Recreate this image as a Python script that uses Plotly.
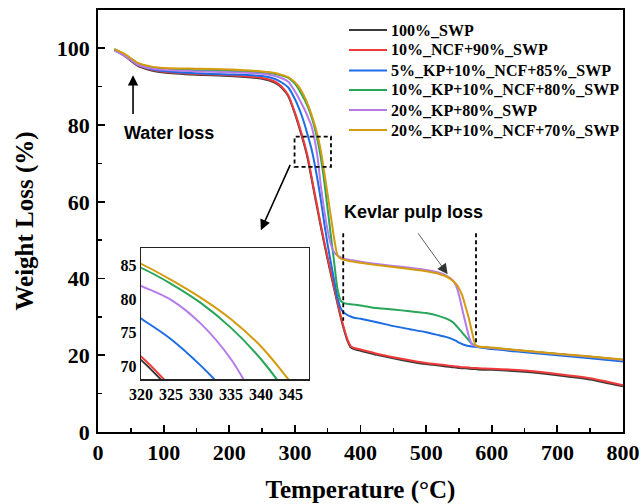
import plotly.graph_objects as go

# Temperature grid (°C) shared by all TGA curves
temperature = [25, 40, 60, 80, 100, 150, 200, 250, 270, 280, 290, 300, 305, 310, 315,
               320, 325, 330, 335, 340, 345, 350, 355, 360, 365, 370, 375, 380, 385, 390,
               400, 425, 450, 475, 500, 520, 530, 540, 545, 550, 555, 560, 565, 570, 575,
               580, 600, 650, 700, 750, 800]

# Remaining weight (%) for each formulation
swp_100 = [99.6, 98.1, 95.5, 94.3, 93.7, 93.1, 92.8, 92.1, 91.0, 89.7, 87.5, 83.0, 80.3, 77.4, 74.4,
           70.9, 66.4, 61.9, 57.5, 53.1, 48.9, 44.9, 41.0, 37.2, 33.4, 29.8, 26.6, 23.8, 22.1, 21.6,
           21.2, 20.1, 19.2, 18.4, 17.7, 17.3, 17.1, 16.9, 16.8, 16.7, 16.6, 16.6, 16.5, 16.4, 16.4,
           16.3, 16.2, 15.7, 14.8, 13.7, 11.9]
ncf10_swp90 = [99.7, 98.3, 95.7, 94.5, 93.9, 93.3, 93.0, 92.3, 91.3, 90.0, 87.8, 83.3, 80.7, 77.9, 74.9,
               71.4, 66.9, 62.4, 58.0, 53.6, 49.4, 45.4, 41.5, 37.6, 33.8, 30.2, 27.0, 24.2, 22.4, 21.9,
               21.5, 20.4, 19.5, 18.7, 18.0, 17.6, 17.4, 17.2, 17.1, 17.0, 16.9, 16.9, 16.8, 16.7, 16.7,
               16.6, 16.5, 16.0, 15.1, 14.0, 12.2]
kp5_ncf10_swp85 = [99.7, 98.3, 95.8, 94.6, 94.1, 93.5, 93.2, 92.8, 92.0, 91.1, 89.8, 86.8, 84.9, 82.7, 80.1,
                   77.1, 74.0, 70.0, 65.3, 60.0, 54.2, 48.8, 44.0, 39.4, 35.0, 32.2, 31.1, 30.5, 30.1, 29.8,
                   29.5, 28.6, 27.6, 26.8, 26.0, 25.2, 24.8, 24.2, 23.8, 23.3, 22.9, 22.6, 22.4, 22.3, 22.2,
                   22.1, 21.6, 20.8, 20.0, 19.2, 18.4]
kp10_ncf10_swp80 = [99.8, 98.5, 96.1, 95.1, 94.7, 94.3, 94.1, 93.7, 93.3, 92.9, 92.3, 90.8, 89.6, 88.1, 86.5,
                    84.7, 82.3, 79.4, 75.7, 71.0, 65.0, 58.0, 51.0, 44.0, 37.2, 34.2, 33.6, 33.4, 33.3, 33.2,
                    33.0, 32.3, 31.9, 31.5, 31.0, 30.2, 29.6, 28.7, 27.9, 26.9, 25.9, 24.9, 23.9, 23.0, 22.5,
                    22.2, 21.9, 21.1, 20.3, 19.6, 18.8]
kp20_swp80 = [99.4, 98.1, 95.8, 94.8, 94.4, 94.0, 93.8, 93.4, 92.8, 92.2, 91.3, 88.8, 87.3, 85.7, 84.0,
              82.0, 79.9, 76.3, 71.0, 63.5, 57.5, 52.5, 48.8, 46.8, 46.0, 45.5, 45.2, 45.0, 44.8, 44.7,
              44.4, 43.8, 43.3, 42.8, 42.2, 41.5, 40.8, 39.6, 38.4, 35.8, 32.0, 28.5, 25.0, 22.8, 22.5,
              22.2, 21.9, 21.1, 20.3, 19.6, 18.8]
kp20_ncf10_swp70 = [99.8, 98.6, 96.3, 95.3, 94.9, 94.7, 94.5, 94.0, 93.6, 93.1, 92.5, 91.2, 90.2, 88.9, 87.3,
                    85.3, 82.9, 80.2, 77.0, 72.9, 67.5, 61.8, 56.0, 50.3, 46.0, 45.2, 44.9, 44.7, 44.5, 44.4,
                    44.1, 43.5, 43.0, 42.5, 41.9, 41.2, 40.6, 39.5, 38.7, 37.5, 35.6, 32.7, 29.7, 26.0, 22.7,
                    22.3, 22.0, 21.2, 20.4, 19.7, 18.9]

series_names = ["100%_SWP", "10%_NCF+90%_SWP", "5%_KP+10%_NCF+85%_SWP",
                "10%_KP+10%_NCF+80%_SWP", "20%_KP+80%_SWP", "20%_KP+10%_NCF+70%_SWP"]
series_values = [swp_100, ncf10_swp90, kp5_ncf10_swp85, kp10_ncf10_swp80, kp20_swp80, kp20_ncf10_swp70]
series_colors = ["#3a3a3a", "#f03a3a", "#1c6ce3", "#27a65a", "#b57bea", "#d49b0e"]

# Axis ticks
x_ticks = [0, 100, 200, 300, 400, 500, 600, 700, 800]
y_ticks = [0, 20, 40, 60, 80, 100]
inset_x_ticks = [320, 325, 330, 335, 340, 345]
inset_y_ticks = [70, 75, 80, 85]

SERIF = "Liberation Serif"
SANS = "Liberation Sans"

W, H = 641, 504
M_L, M_R, M_T, M_B = 98, 18, 10, 72

fig = go.Figure()

# Main curves
for name, vals, color in zip(series_names, series_values, series_colors):
    fig.add_trace(go.Scatter(
        x=temperature, y=vals, mode="lines", name=name, showlegend=False,
        line=dict(color=color, width=2, shape="spline", smoothing=0.5),
        xaxis="x", yaxis="y", hoverinfo="skip",
    ))

# Zoomed inset of the decomposition onset
for name, vals, color in zip(series_names, series_values, series_colors):
    fig.add_trace(go.Scatter(
        x=temperature, y=vals, mode="lines", name=name, showlegend=False,
        line=dict(color=color, width=2, shape="spline", smoothing=1.0),
        xaxis="x2", yaxis="y2", hoverinfo="skip",
    ))

axis_common = dict(
    showline=True, linecolor="black", linewidth=1.8, mirror=True,
    showgrid=False, zeroline=False, automargin=False,
    ticks="inside", ticklen=7, tickwidth=1.8, tickcolor="black",
    tickfont=dict(family=SERIF, size=22, color="black", weight="bold"),
)
inset_common = dict(
    showline=True, linecolor="#222", linewidth=1.3, mirror=True,
    showgrid=False, zeroline=False, ticks="", automargin=False,
    tickfont=dict(family=SERIF, size=16, color="black", weight="bold"),
)

fig.update_layout(
    width=W, height=H,
    margin=dict(l=M_L, r=M_R, t=M_T, b=M_B),
    paper_bgcolor="white", plot_bgcolor="white",
    showlegend=False,
    xaxis=dict(
        **axis_common, range=[0, 800], tickvals=x_ticks,
        minor=dict(ticks="inside", ticklen=4, tickwidth=1.5, dtick=50, tickcolor="black"),
        title=dict(text="Temperature (°C)", standoff=20,
                   font=dict(family=SERIF, size=25, color="black", weight="bold")),
    ),
    yaxis=dict(
        **axis_common, range=[0, 110], tickvals=y_ticks,
        minor=dict(ticks="inside", ticklen=4, tickwidth=1.5, dtick=10, tickcolor="black"),
        title=dict(text="Weight Loss (%)", standoff=16,
                   font=dict(family=SERIF, size=25, color="black", weight="bold")),
        ticklabelstandoff=2,
    ),
    xaxis2=dict(**inset_common, domain=[0.082, 0.402], anchor="y2",
                range=[320, 348], tickvals=inset_x_ticks),
    yaxis2=dict(**inset_common, domain=[0.125, 0.435], anchor="x2",
                range=[68, 87.6], tickvals=inset_y_ticks),
)

# Legend: short line sample followed by the series name, one row per series
plot_w = W - M_L - M_R
plot_h = H - M_T - M_B
def px_x(px):
    return (px - M_L) / plot_w
def px_y(py):
    return (H - M_B - py) / plot_h

legend_rows_px = [30, 50, 70.5, 90, 110, 130]
for name, color, row in zip(series_names, series_colors, legend_rows_px):
    fig.add_shape(type="line", xref="paper", yref="paper",
                  x0=px_x(349), x1=px_x(387), y0=px_y(row), y1=px_y(row),
                  line=dict(color=color, width=2))
    fig.add_annotation(x=px_x(389), y=px_y(row), xref="paper", yref="paper",
                       xanchor="left", yanchor="middle", text=name, showarrow=False,
                       font=dict(family=SERIF, size=16, color="black", weight="bold"))

# Dashed marker box around the zoomed region, and dashed guides for the Kevlar step
dash_style = dict(color="black", width=1.8, dash="4px,3px")
fig.add_shape(type="rect", xref="x", yref="y", x0=299.5, x1=355, y0=69.1, y1=77.0,
              line=dash_style)
fig.add_shape(type="line", xref="x", yref="y", x0=373.7, x1=373.7, y0=51.8, y1=29.0,
              line=dash_style)
fig.add_shape(type="line", xref="x", yref="y", x0=576.0, x1=576.0, y0=51.8, y1=23.1,
              line=dash_style)

# Arrows
fig.add_annotation(x=53.4, y=93.0, ax=53.4, ay=82.5, xref="x", yref="y", axref="x", ayref="y",
                   text="", showarrow=True, arrowhead=2, arrowsize=1.3, arrowwidth=1.6,
                   arrowcolor="black", standoff=0)
fig.add_annotation(x=248.2, y=52.6, ax=293.9, ay=70.0, xref="x", yref="y", axref="x", ayref="y",
                   text="", showarrow=True, arrowhead=2, arrowsize=1.3, arrowwidth=1.6,
                   arrowcolor="black", standoff=0)
fig.add_annotation(x=532.8, y=41.1, ax=486.1, ay=52.2, xref="x", yref="y", axref="x", ayref="y",
                   text="", showarrow=True, arrowhead=2, arrowsize=2.6, arrowwidth=0.8,
                   arrowcolor="#333", standoff=0)

# Text labels
fig.add_annotation(x=107.5, y=77.9, xref="x", yref="y", text="Water loss", showarrow=False,
                   font=dict(family=SANS, size=18, color="black", weight="bold"))
fig.add_annotation(x=480, y=57.4, xref="x", yref="y", text="Kevlar pulp loss", showarrow=False,
                   font=dict(family=SANS, size=18, color="black", weight="bold"))

fig.write_html("out.html", config={"displayModeBar": False, "staticPlot": True})
